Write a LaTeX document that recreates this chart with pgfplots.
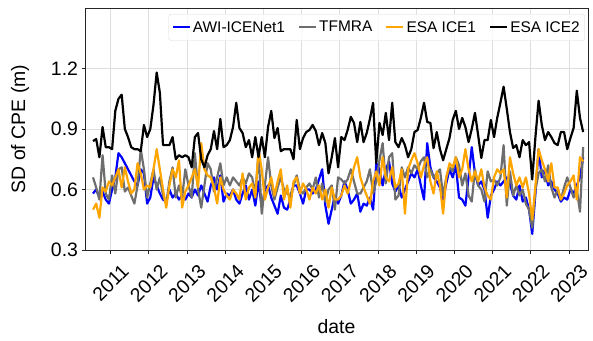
\documentclass[border=0pt]{standalone}
\usepackage{fontspec}
\setmainfont{Liberation Sans}
\usepackage{graphicx}
\usepackage{pgfplots}
\usepackage{pgfplotstable}
\pgfplotsset{compat=1.18}
\definecolor{tfgray}{RGB}{110,110,110}
\definecolor{esaorange}{RGB}{255,165,0}
% monthly values, first month at 2010.54
\pgfplotstableread[row sep=\\]{y\\
0.58\\0.60\\0.56\\0.59\\0.55\\0.53\\0.60\\0.66\\0.78\\0.76\\0.73\\0.70\\
0.67\\0.64\\0.62\\0.70\\0.68\\0.53\\0.56\\0.66\\0.62\\0.58\\0.55\\0.54\\
0.60\\0.56\\0.58\\0.55\\0.57\\0.55\\0.58\\0.56\\0.60\\0.57\\0.62\\0.58\\
0.54\\0.62\\0.66\\0.60\\0.67\\0.54\\0.58\\0.57\\0.60\\0.55\\0.53\\0.58\\
0.62\\0.55\\0.60\\0.52\\0.64\\0.51\\0.60\\0.62\\0.56\\0.52\\0.48\\0.57\\
0.51\\0.50\\0.55\\0.62\\0.62\\0.58\\0.53\\0.60\\0.60\\0.58\\0.60\\0.65\\
0.70\\0.52\\0.43\\0.50\\0.57\\0.53\\0.57\\0.64\\0.60\\0.53\\0.55\\0.58\\
0.49\\0.53\\0.52\\0.56\\0.50\\0.73\\0.70\\0.62\\0.70\\0.74\\0.63\\0.59\\
0.62\\0.56\\0.60\\0.64\\0.68\\0.66\\0.70\\0.62\\0.55\\0.83\\0.71\\0.66\\
0.64\\0.61\\0.55\\0.63\\0.70\\0.66\\0.72\\0.56\\0.55\\0.52\\0.66\\0.81\\
0.68\\0.62\\0.64\\0.60\\0.46\\0.57\\0.60\\0.64\\0.62\\0.64\\0.66\\0.63\\
0.57\\0.55\\0.62\\0.54\\0.56\\0.50\\0.38\\0.58\\0.80\\0.66\\0.70\\0.62\\
0.64\\0.60\\0.58\\0.54\\0.56\\0.55\\0.60\\0.58\\0.62\\0.66\\0.76\\
}\awi
\pgfplotstableread[row sep=\\]{y\\
0.66\\0.61\\0.55\\0.77\\0.58\\0.55\\0.67\\0.58\\0.70\\0.71\\0.59\\0.61\\
0.57\\0.53\\0.62\\0.80\\0.70\\0.56\\0.63\\0.70\\0.60\\0.66\\0.57\\0.53\\
0.64\\0.71\\0.56\\0.62\\0.56\\0.70\\0.62\\0.56\\0.78\\0.60\\0.51\\0.62\\
0.73\\0.70\\0.59\\0.66\\0.73\\0.62\\0.66\\0.62\\0.66\\0.64\\0.62\\0.66\\
0.63\\0.68\\0.66\\0.58\\0.78\\0.48\\0.62\\0.76\\0.62\\0.55\\0.61\\0.66\\
0.60\\0.58\\0.57\\0.62\\0.67\\0.60\\0.58\\0.61\\0.63\\0.60\\0.66\\0.56\\
0.63\\0.54\\0.60\\0.62\\0.50\\0.66\\0.65\\0.63\\0.65\\0.70\\0.64\\0.58\\
0.58\\0.61\\0.64\\0.70\\0.58\\0.64\\0.745\\0.83\\0.63\\0.76\\0.78\\0.55\\
0.57\\0.71\\0.66\\0.71\\0.68\\0.72\\0.70\\0.74\\0.76\\0.66\\0.70\\0.66\\
0.68\\0.70\\0.57\\0.66\\0.71\\0.69\\0.76\\0.72\\0.62\\0.68\\0.57\\0.54\\
0.70\\0.62\\0.60\\0.54\\0.69\\0.64\\0.65\\0.62\\0.66\\0.82\\0.52\\0.69\\
0.57\\0.62\\0.57\\0.60\\0.53\\0.50\\0.41\\0.60\\0.68\\0.70\\0.64\\0.72\\
0.61\\0.56\\0.60\\0.55\\0.61\\0.66\\0.61\\0.56\\0.60\\0.49\\0.81\\
}\tfmra
\pgfplotstableread[row sep=\\]{y\\
0.50\\0.53\\0.46\\0.61\\0.59\\0.64\\0.62\\0.66\\0.70\\0.61\\0.71\\0.64\\
0.58\\0.60\\0.73\\0.68\\0.60\\0.62\\0.61\\0.70\\0.80\\0.70\\0.60\\0.51\\
0.62\\0.70\\0.66\\0.745\\0.51\\0.59\\0.62\\0.66\\0.70\\0.61\\0.83\\0.70\\
0.67\\0.66\\0.61\\0.53\\0.66\\0.60\\0.57\\0.55\\0.60\\0.58\\0.55\\0.68\\
0.55\\0.61\\0.63\\0.56\\0.80\\0.70\\0.55\\0.61\\0.66\\0.57\\0.64\\0.70\\
0.55\\0.62\\0.51\\0.64\\0.66\\0.58\\0.63\\0.60\\0.55\\0.61\\0.58\\0.62\\
0.55\\0.60\\0.51\\0.61\\0.55\\0.55\\0.57\\0.62\\0.58\\0.64\\0.71\\0.76\\
0.66\\0.61\\0.57\\0.53\\0.64\\0.69\\0.62\\0.76\\0.66\\0.64\\0.71\\0.61\\
0.63\\0.70\\0.48\\0.70\\0.745\\0.78\\0.73\\0.66\\0.72\\0.76\\0.64\\0.58\\
0.69\\0.62\\0.48\\0.66\\0.73\\0.71\\0.76\\0.66\\0.70\\0.80\\0.70\\0.64\\
0.69\\0.64\\0.70\\0.61\\0.57\\0.55\\0.66\\0.70\\0.68\\0.70\\0.56\\0.76\\
0.68\\0.62\\0.66\\0.61\\0.66\\0.58\\0.45\\0.62\\0.80\\0.745\\0.70\\0.64\\
0.73\\0.61\\0.61\\0.55\\0.58\\0.62\\0.64\\0.67\\0.55\\0.76\\0.74\\
}\iceone
\pgfplotstableread[row sep=\\]{y\\
0.84\\0.85\\0.76\\0.91\\0.81\\0.81\\0.80\\0.99\\1.05\\1.07\\0.90\\0.86\\
0.81\\0.80\\0.80\\0.79\\0.92\\0.86\\0.90\\1.02\\1.18\\1.08\\0.82\\0.82\\
0.82\\0.86\\0.75\\0.77\\0.76\\0.77\\0.76\\0.71\\0.86\\0.88\\0.75\\0.71\\
0.77\\0.80\\0.89\\0.80\\0.95\\0.81\\0.82\\0.845\\0.91\\1.03\\0.905\\0.88\\
0.81\\0.845\\0.76\\0.86\\0.76\\0.86\\0.76\\0.91\\0.99\\0.855\\0.905\\0.79\\
0.80\\0.80\\0.80\\0.75\\0.945\\0.80\\0.855\\0.885\\0.895\\0.92\\0.89\\0.82\\
0.88\\0.83\\0.68\\0.76\\0.855\\0.71\\0.86\\0.845\\0.895\\0.96\\0.93\\0.835\\
0.935\\0.835\\0.88\\0.95\\1.03\\0.73\\0.93\\0.87\\0.98\\0.845\\1.03\\0.835\\
0.81\\0.855\\0.82\\0.76\\0.80\\0.885\\0.895\\0.955\\1.03\\0.935\\0.93\\0.805\\
0.885\\0.80\\0.745\\0.80\\0.855\\0.945\\0.99\\0.90\\0.955\\0.91\\0.835\\0.90\\
0.98\\0.87\\0.756\\0.845\\0.845\\0.945\\0.86\\0.955\\1.03\\1.11\\1.00\\0.885\\
0.806\\0.82\\0.76\\0.845\\0.82\\0.835\\0.65\\0.86\\1.04\\0.92\\0.845\\0.885\\
0.86\\0.83\\0.82\\0.885\\0.885\\0.80\\0.855\\0.905\\1.09\\0.955\\0.885\\
}\icetwo
\begin{document}
\begin{tikzpicture}
\begin{axis}[
  scale only axis, width=503bp, height=242bp,
  xmin=2010.33, xmax=2023.5, ymin=0.3, ymax=1.5,
  xtick={2011,2012,2013,2014,2015,2016,2017,2018,2019,2020,2021,2022,2023},
  xticklabels={\rotatebox{45}{2011},\rotatebox{45}{2012},\rotatebox{45}{2013},\rotatebox{45}{2014},\rotatebox{45}{2015},\rotatebox{45}{2016},\rotatebox{45}{2017},\rotatebox{45}{2018},\rotatebox{45}{2019},\rotatebox{45}{2020},\rotatebox{45}{2021},\rotatebox{45}{2022},\rotatebox{45}{2023}},
  ytick={0.3,0.6,0.9,1.2}, yticklabels={0.3,0.6,0.9,1.2},
  tick pos=left, tick align=outside, major tick length=3.5bp,
  grid=major, grid style={black!13, line width=0.7bp},
  axis line style={black!85, line width=0.8bp},
  every tick/.style={black!85, line width=0.8bp},
  ticklabel style={font=\fontsize{19.5}{22}\selectfont},
  xticklabel style={yshift=-6bp},
  xlabel={date}, ylabel={SD of CPE (m)},
  label style={font=\fontsize{19.5}{22}\selectfont},
  xlabel style={at={(axis description cs:0.5,-0.318)}, anchor=center},
  ylabel style={at={(axis description cs:-0.129,0.5)}, anchor=center},
  legend style={at={(0.994,0.975)}, anchor=north east, legend columns=4,
    draw=black!15, rounded corners=2.5bp, fill=white, fill opacity=0.8, text opacity=1,
    font=\fontsize{15.5}{18}\selectfont, inner xsep=3bp, inner ysep=5bp,
    /tikz/every even column/.append style={column sep=11bp}},
  legend cell align=left,
  legend image code/.code={\draw[#1] (0bp,0bp) -- (17bp,0bp);},
  every axis plot/.append style={line width=2.2bp, line join=round},
]
\addplot[blue] table[x expr=2010.54+\coordindex/12, y=y] {\awi};
\addlegendentry{AWI-ICENet1}
\addplot[tfgray] table[x expr=2010.54+\coordindex/12, y=y] {\tfmra};
\addlegendentry{TFMRA}
\addplot[esaorange] table[x expr=2010.54+\coordindex/12, y=y] {\iceone};
\addlegendentry{ESA ICE1}
\addplot[black] table[x expr=2010.54+\coordindex/12, y=y] {\icetwo};
\addlegendentry{ESA ICE2}
\end{axis}
\pgfresetboundingbox
\path[use as bounding box] ([xshift=-85bp,yshift=-91bp]current axis.south west) rectangle ([xshift=5bp,yshift=8bp]current axis.north east);
\end{tikzpicture}
\end{document}
